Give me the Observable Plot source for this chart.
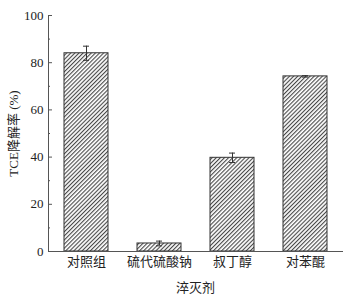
<!DOCTYPE html>
<html>
<head>
<meta charset="utf-8">
<script src="https://cdn.jsdelivr.net/npm/d3@7"></script>
<script src="https://cdn.jsdelivr.net/npm/@observablehq/plot@0.6"></script>
<style>
  body { margin: 0; background: #fff; }
</style>
</head>
<body>
<div id="chart"></div>
<script>
const categories = ["对照组", "硫代硫酸钠", "叔丁醇", "对苯醌"];
const values = [84.0, 3.4, 39.7, 74.2];
const errors = [3.0, 1.0, 2.0, 0.3];
const majorTicks = [0, 20, 40, 60, 80, 100];
const minorTicks = [10, 30, 50, 70, 90];
const xTitle = "淬灭剂";
const yTitle = "TCE降解率 (%)";

const data = categories.map((c, i) => ({cat: c, v: values[i], e: errors[i]}));

const fontFamily = "'Liberation Serif', 'Times New Roman', 'Noto Sans CJK SC', serif";

const chart = Plot.plot({
  width: 354,
  height: 299,
  marginLeft: 48,
  marginRight: 12,
  marginTop: 15,
  marginBottom: 48,
  style: {fontFamily, fontSize: "13px", color: "#222", background: "#fff"},
  x: {domain: categories, paddingInner: 0.4, paddingOuter: 0.2},
  y: {domain: [0, 100]},
  marks: [
    Plot.barY(data, {x: "cat", y: "v", fill: "url(#hatch)", stroke: "#333", strokeWidth: 1}),
    Plot.ruleX(data, {x: "cat", y1: d => d.v - d.e, y2: d => d.v + d.e, stroke: "#333", strokeWidth: 1}),
    Plot.tickY(data, {x: "cat", y: d => d.v + d.e, stroke: "#333", insetLeft: 19, insetRight: 19}),
    Plot.tickY(data, {x: "cat", y: d => d.v - d.e, stroke: "#333", insetLeft: 19, insetRight: 19}),
    Plot.frame({anchor: "left", stroke: "#555"}),
    Plot.frame({anchor: "bottom", stroke: "#555"}),
    Plot.axisY({ticks: majorTicks, tickSize: -4, tickPadding: 9, stroke: "#555", fontSize: 13,
      label: yTitle, labelAnchor: "center", labelArrow: "none", labelOffset: 40}),
    Plot.axisY({ticks: minorTicks, tickSize: -2, text: null, stroke: "#555", label: null}),
    Plot.axisX({tickSize: 0, tickPadding: 5, fontSize: 13,
      label: xTitle, labelAnchor: "center", labelArrow: "none", labelOffset: 40})
  ]
});

const ns = "http://www.w3.org/2000/svg";
const defs = document.createElementNS(ns, "defs");
const pat = document.createElementNS(ns, "pattern");
pat.setAttribute("id", "hatch");
pat.setAttribute("patternUnits", "userSpaceOnUse");
pat.setAttribute("width", "2.9");
pat.setAttribute("height", "2.9");
pat.setAttribute("patternTransform", "rotate(45)");
const bg = document.createElementNS(ns, "rect");
bg.setAttribute("width", "2.9");
bg.setAttribute("height", "2.9");
bg.setAttribute("fill", "#fff");
const ln = document.createElementNS(ns, "line");
ln.setAttribute("x1", "0.6"); ln.setAttribute("y1", "0");
ln.setAttribute("x2", "0.6"); ln.setAttribute("y2", "2.9");
ln.setAttribute("stroke", "#333");
ln.setAttribute("stroke-width", "1");
pat.appendChild(bg);
pat.appendChild(ln);
defs.appendChild(pat);
chart.insertBefore(defs, chart.firstChild);

document.getElementById("chart").appendChild(chart);
</script>
</body>
</html>
